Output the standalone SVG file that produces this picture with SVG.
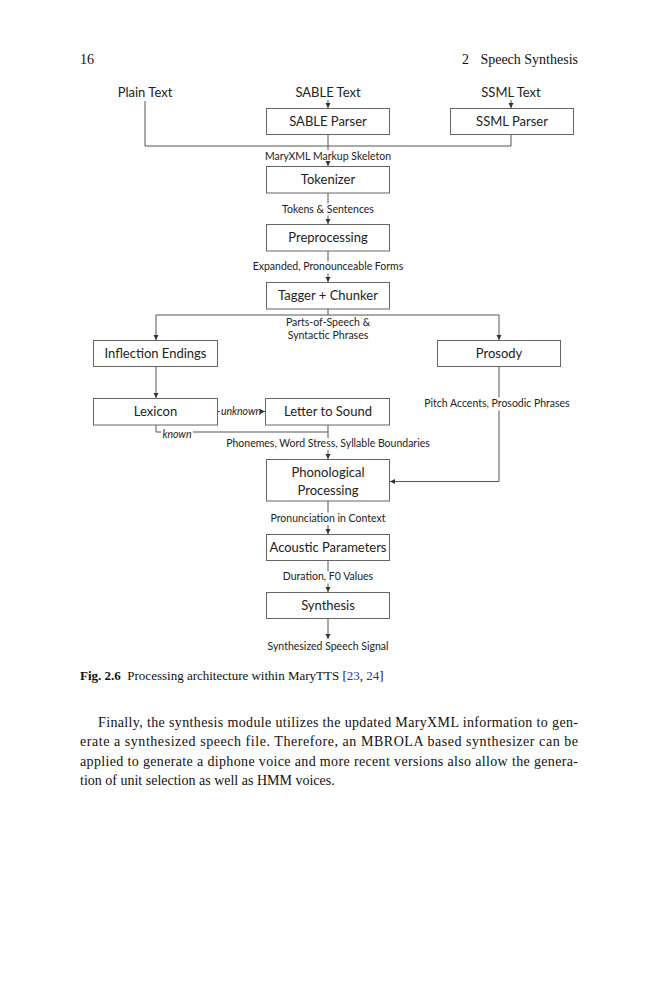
<svg xmlns="http://www.w3.org/2000/svg" width="659" height="1000" viewBox="0 0 659 1000">
<defs>
<marker id="arr" markerUnits="userSpaceOnUse" markerWidth="6" markerHeight="6" refX="5" refY="2.5" orient="auto">
<path d="M0,0 L5,2.5 L0,5 z" fill="#333"/>
</marker>
<style>
.box{fill:#fff;stroke:#666;stroke-width:1}
.bt{font-family:Lato,"Liberation Sans",sans-serif;font-size:13px;fill:#222;text-anchor:middle}
.lb{font-family:Lato,"Liberation Sans",sans-serif;font-size:10.5px;fill:#222;text-anchor:middle}
.it{font-style:italic}
.ln{fill:none;stroke:#555;stroke-width:1}
.ar{marker-end:url(#arr)}
.pg{font-family:"Liberation Serif","Times New Roman",serif;fill:#111}
</style>
</defs>
<rect width="659" height="1000" fill="#fff"/>

<g id="header" class="pg" font-size="14">
<text x="80" y="63.5">16</text>
<text x="462" y="63.5">2</text>
<text x="578" y="63.5" text-anchor="end">Speech Synthesis</text>
</g>

<g id="connectors">
<path class="ln" d="M145,101 V146 H511"/>
<path class="ln" d="M328,134.5 V146"/>
<path class="ln" d="M511,134.5 V146"/>
<path class="ln ar" d="M328,100 V108"/>
<path class="ln ar" d="M511,100 V108"/>
<path class="ln" d="M328,146 V150"/>
<path class="ln ar" d="M328,162.5 V166"/>
<path class="ln" d="M328,193 V203.5"/>
<path class="ln ar" d="M328,215.5 V224"/>
<path class="ln" d="M328,251 V261.5"/>
<path class="ln ar" d="M328,273.5 V282"/>
<path class="ln" d="M328,309 V315 M156,315 H499"/>
<path class="ln ar" d="M156,315 V340"/>
<path class="ln ar" d="M499,315 V340"/>
<path class="ln ar" d="M156,366.5 V398"/>
<path class="ln" d="M217.5,411.5 H220"/>
<path class="ln ar" d="M262,411.5 H265"/>
<path class="ln" d="M156,425 V432 H161 M193,432 H328"/>
<path class="ln" d="M328,425 V438"/>
<path class="ln ar" d="M328,450 V459"/>
<path class="ln" d="M499,366.5 V397.5"/>
<path class="ln ar" d="M499,410.5 V481.5 H390"/>
<path class="ln" d="M328,501 V512.5"/>
<path class="ln ar" d="M328,525 V534"/>
<path class="ln" d="M328,560.5 V571.5"/>
<path class="ln ar" d="M328,583.5 V592"/>
<path class="ln ar" d="M328,618.5 V639"/>
</g>

<g id="labels">
<text class="lb" x="328" y="159.5">MaryXML Markup Skeleton</text>
<text class="lb" x="328" y="212.7">Tokens &amp; Sentences</text>
<text class="lb" x="328" y="270.4">Expanded, Pronounceable Forms</text>
<text class="lb" x="328" y="326.4">Parts-of-Speech &amp;</text>
<text class="lb" x="328" y="339.4">Syntactic Phrases</text>
<text class="lb it" x="241" y="415.4">unknown</text>
<text class="lb it" x="177" y="437.7">known</text>
<text class="lb" x="328" y="447">Phonemes, Word Stress, Syllable Boundaries</text>
<text class="lb" x="497" y="407">Pitch Accents, Prosodic Phrases</text>
<text class="lb" x="328" y="522">Pronunciation in Context</text>
<text class="lb" x="328" y="580.4">Duration, F0 Values</text>
<text class="lb" x="328" y="650.4">Synthesized Speech Signal</text>
</g>

<g id="inputs">
<text class="bt" x="145" y="96.5">Plain Text</text>
<text class="bt" x="328" y="96.5">SABLE Text</text>
<text class="bt" x="511" y="96.5">SSML Text</text>
</g>

<g id="sable-parser"><rect class="box" x="266.5" y="108.5" width="123" height="26"/><text class="bt" x="328" y="126">SABLE Parser</text></g>
<g id="ssml-parser"><rect class="box" x="450.5" y="108.5" width="123" height="26"/><text class="bt" x="512" y="126">SSML Parser</text></g>
<g id="tokenizer"><rect class="box" x="266.5" y="166.5" width="123" height="26.5"/><text class="bt" x="328" y="184.3">Tokenizer</text></g>
<g id="preprocessing"><rect class="box" x="266.5" y="224.5" width="123" height="26.5"/><text class="bt" x="328" y="242.3">Preprocessing</text></g>
<g id="tagger"><rect class="box" x="266.5" y="282.5" width="123" height="26.5"/><text class="bt" x="328" y="300.3">Tagger + Chunker</text></g>
<g id="inflection"><rect class="box" x="93.5" y="340.5" width="124" height="26"/><text class="bt" x="155.5" y="358">Inflection Endings</text></g>
<g id="prosody"><rect class="box" x="437.5" y="340.5" width="123" height="26"/><text class="bt" x="499" y="358">Prosody</text></g>
<g id="lexicon"><rect class="box" x="93.5" y="398.5" width="124" height="26.5"/><text class="bt" x="155.5" y="416.3">Lexicon</text></g>
<g id="letter-to-sound"><rect class="box" x="265.5" y="398.5" width="124" height="26.5"/><text class="bt" x="328" y="416.3">Letter to Sound</text></g>
<g id="phonological"><rect class="box" x="266.5" y="459.5" width="123" height="41.5"/><text class="bt" x="328" y="477.3">Phonological</text><text class="bt" x="328" y="494.5">Processing</text></g>
<g id="acoustic"><rect class="box" x="266.5" y="534.5" width="123" height="26"/><text class="bt" x="328" y="552">Acoustic Parameters</text></g>
<g id="synthesis"><rect class="box" x="266.5" y="592.5" width="123" height="26"/><text class="bt" x="328" y="610">Synthesis</text></g>

<g id="caption" class="pg">
<text x="80" y="679.5" font-size="13"><tspan font-weight="bold">Fig. 2.6</tspan><tspan xml:space="preserve">  Processing architecture within MaryTTS [</tspan><tspan fill="#3333aa">23</tspan><tspan>, </tspan><tspan fill="#3333aa">24</tspan><tspan>]</tspan></text>
</g>

<g id="paragraph" class="pg" font-size="14">
<text x="98" y="726.5" textLength="480" lengthAdjust="spacing">Finally, the synthesis module utilizes the updated MaryXML information to gen-</text>
<text x="80" y="746" textLength="498" lengthAdjust="spacing">erate a synthesized speech file. Therefore, an MBROLA based synthesizer can be</text>
<text x="80" y="765.5" textLength="498" lengthAdjust="spacing">applied to generate a diphone voice and more recent versions also allow the genera-</text>
<text x="80" y="785">tion of unit selection as well as HMM voices.</text>
</g>
</svg>
